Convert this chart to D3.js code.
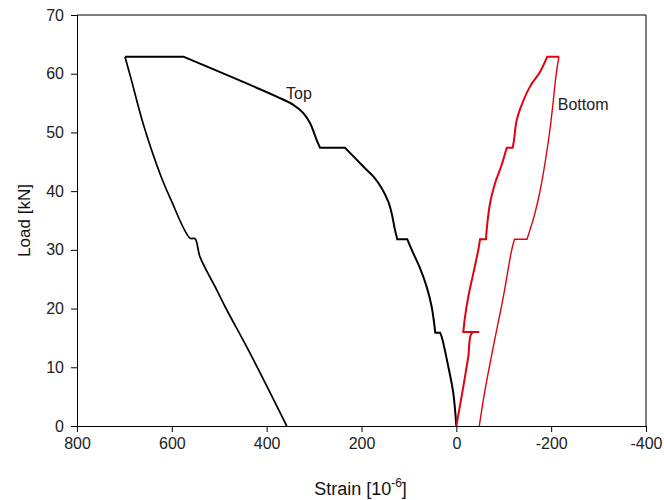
<!DOCTYPE html>
<html>
<head>
<meta charset="utf-8">
<script src="https://cdn.jsdelivr.net/npm/d3@7/dist/d3.min.js"></script>
<style>
  html, body { margin: 0; padding: 0; background: #fff; }
  svg { display: block; font-family: Arial, "Liberation Sans", sans-serif; }
</style>
</head>
<body>
<svg id="chart" width="664" height="500"></svg>
<script>
// ---- Data (strain in 10^-6, load in kN) ----
const topLoadStrain = [0, 6.4, 16.9, 30.9, 34.4, 44.4, 52, 62.5, 76.6, 90.7, 103.4, 124.5, 129.4, 136.3, 143.5, 157.4, 175.1, 196.2, 234.8, 287.5, 294.5, 308.6, 322.7, 343.8, 378.8, 575.8, 698.8];
const topLoadLoad   = [0, 5.6, 10.1, 15.2, 15.9, 15.9, 20.3, 23.7, 26.9, 29.4, 31.8, 31.8, 33.4, 36.2, 38.2, 40.5, 42.5, 44.2, 47.4, 47.4, 48.7, 51.6, 53.3, 54.7, 56.1, 62.9, 62.9];

const topUnloadStrain = [698.8, 687.2, 658.7, 622.8, 601.8, 561.7, 551.1, 540.6, 505.4, 484.3, 435.1, 357.7];
const topUnloadLoad   = [62.9, 59.5, 51.0, 42.5, 38.5, 32.0, 31.9, 28.8, 23.2, 19.8, 12.4, 0];

const botLoadStrain = [0, -14.7, -25.2, -32.4, -48.4, -14.7, -18.3, -25.2, -35.8, -46.3, -50, -62.6, -64, -71, -81.5, -95.7, -106.2, -118.9, -121.6, -127.3, -137.9, -155.3, -176.4, -191.9, -216.5];
const botLoadLoad   = [0, 6.7, 11.8, 15.8, 16.0, 16.0, 18.6, 22.0, 26.0, 30.0, 31.8, 31.8, 33.4, 37.9, 41.3, 44.5, 47.4, 47.4, 48.7, 52.1, 54.7, 57.8, 60.3, 62.9, 62.9];

const botUnloadStrain = [-216.5, -211.7, -196.5, -177, -165, -149, -122.7, -116.8, -99.1, -78, -60.4, -48.4];
const botUnloadLoad   = [62.9, 60.6, 49.9, 40.2, 36.0, 31.8, 31.8, 30.0, 22.0, 13.5, 6.1, 0];

const xTicks = [800, 600, 400, 200, 0, -200, -400];
const yTicks = [0, 10, 20, 30, 40, 50, 60, 70];
const curveLabels = [
  { text: "Top", x: 359, y: 55.7 },
  { text: "Bottom", x: -214, y: 53.8 }
];

// ---- Layout ----
const W = 664, H = 500;
const margin = { left: 77, right: 18, top: 15, bottom: 74 };
const svg = d3.select("#chart");
const x = d3.scaleLinear().domain([800, -400]).range([margin.left, W - margin.right]);
const y = d3.scaleLinear().domain([0, 70]).range([H - margin.bottom, margin.top]);

// frame (top & right)
svg.append("path")
  .attr("d", `M${x(800)},${y(70)}H${x(-400)}V${y(0)}`)
  .attr("fill", "none").attr("stroke", "#000").attr("stroke-width", 1);

// axes
const fmt = d => String(d);
const xAxis = svg.append("g")
  .attr("transform", `translate(0,${y(0)})`)
  .call(d3.axisBottom(x).tickValues(xTicks).tickSize(6).tickPadding(6).tickFormat(fmt));
const yAxis = svg.append("g")
  .attr("transform", `translate(${x(800)},0)`)
  .call(d3.axisLeft(y).tickValues(yTicks).tickSize(6).tickPadding(7).tickFormat(fmt));
[xAxis, yAxis].forEach(g => {
  g.select(".domain").attr("stroke", "#000").attr("stroke-width", 1);
  g.selectAll(".tick line").attr("stroke", "#000");
  g.selectAll(".tick text").attr("fill", "#222").style("font-size", "16px")
    .style("font-family", "Arial, 'Liberation Sans', sans-serif");
});

// lines: smooth pieces joined by straight horizontal load-hold steps
const zip = (a, b) => a.map((v, i) => [v, b[i]]);
const smooth = d3.line().x(d => x(d[0])).y(d => y(d[1])).curve(d3.curveCatmullRom.alpha(0.5));
function pathFor(pts) {
  const pieces = [];
  let cur = [pts[0]];
  for (let i = 1; i < pts.length; i++) {
    if (pts[i][1] === pts[i - 1][1]) {
      pieces.push(cur);
      pieces.push([pts[i - 1], pts[i]]);
      cur = [pts[i]];
    } else {
      cur.push(pts[i]);
    }
  }
  pieces.push(cur);
  let d = "";
  pieces.filter(p => p.length > 1).forEach((p, k) => {
    const s = smooth(p);
    d += k === 0 ? s : s.replace(/^M/, "L");
  });
  return d;
}
const series = [
  { pts: zip(topLoadStrain, topLoadLoad), color: "#000", w: 2 },
  { pts: zip(topUnloadStrain, topUnloadLoad), color: "#000", w: 1.7 },
  { pts: zip(botLoadStrain, botLoadLoad), color: "#e3000f", w: 2 },
  { pts: zip(botUnloadStrain, botUnloadLoad), color: "#e3000f", w: 1.4 }
];
series.forEach(s => {
  svg.append("path")
    .attr("d", pathFor(s.pts))
    .attr("fill", "none")
    .attr("stroke", s.color)
    .attr("stroke-width", s.w)
    .attr("stroke-linejoin", "miter");
});

// curve labels
curveLabels.forEach(l => {
  svg.append("text")
    .attr("x", x(l.x)).attr("y", y(l.y))
    .attr("fill", "#222")
    .style("font-size", "16px")
    .text(l.text);
});

// axis titles
svg.append("text")
  .attr("transform", `translate(30,${(y(0) + y(70)) / 2}) rotate(-90)`)
  .attr("text-anchor", "middle")
  .attr("fill", "#111")
  .style("font-size", "17px")
  .text("Load [kN]");

const xt = svg.append("text")
  .attr("x", (x(800) + x(-400)) / 2 - 1)
  .attr("y", 495)
  .attr("text-anchor", "middle")
  .attr("fill", "#111")
  .style("font-size", "18px");
xt.append("tspan").text("Strain [10");
xt.append("tspan").attr("dy", -8).style("font-size", "12px").text("-6");
xt.append("tspan").attr("dy", 8).text("]");
</script>
</body>
</html>
